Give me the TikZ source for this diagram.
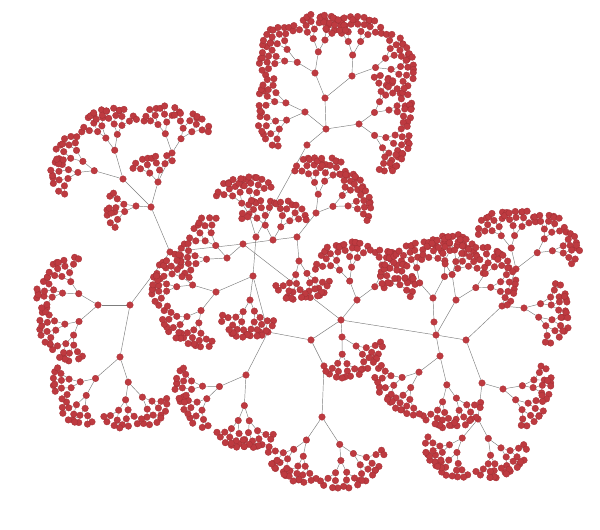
\documentclass[tikz,border=0pt]{standalone}
\definecolor{dotred}{RGB}{190,58,64}
\definecolor{wiregray}{RGB}{125,125,125}
\newif\ifwires
% binary fan below a hub: name, x, y, direction, length, levels
\newcommand\sprout[6]{%
  \ifnum#6>0
    \foreach \s/\sg in {a/-1,b/1}{%
      \pgfmathsetmacro\sp{{22,27,22,25,33}[#6-1]}%
      \pgfmathsetmacro\ang{#4+(\sg)*(\sp+6*rand)}%
      \pgfmathsetmacro\bl{#5*(1+0.15*rand)}%
      \pgfmathsetmacro\bx{#2+\bl*cos(\ang)}%
      \pgfmathsetmacro\by{#3+\bl*sin(\ang)}%
      \pgfmathsetmacro\bn{0.5*#5+2.9}%
      \pgfmathtruncatemacro\bd{#6-1}%
      \ifwires
        \node[spot] (#1-\s) at (\bx,\by) {};
        \draw[wire] (#1) -- (#1-\s);
      \else
        \node[dot] at (\bx,\by) {};
      \fi
      \edef\sproutnext{\noexpand\sprout{#1-\s}{\bx}{\by}{\ang}{\bn}{\bd}}\sproutnext
    }%
  \fi}
\newcommand\hubs{R/311/340, Ha/341/320, Hb/324/366, Hc/268/332,
    ca/243/244, hb/357/300, ka/342/337, hc/436/335,
    na/170/252, qa/273/240, ma/227/258,
    pa/130/305, pb/151/207, la/98/305, lb/120/357,
    ua/123/179, ud/158/182, ub/172/153, uc/136/206,
    qq/297/237, qb/316/213, qc/299/261,
    sa/253/276, sd/256/237, sf/216/292, sb/250/300, sc/249/214, se/246/375,
    va/322/417,
    ra/466/340, rb/502/306, rc/456/300, rd/440/356, re/434/322, rf/433/298,
    rg/482/383, rh/516/269, ri/524/308, rj/478/419, rk/503/389,
    ta/307/145, tb/326/129, tc/359/124, td/325/98, te/352/76, tf/315/73, tg/305/112}
\newcommand\fans{la/98/305/176/25/5, lb/120/357/104/31/5,
    ua/123/179/-135/28/5, ud/158/182/-110/12/3, ub/172/153/-80/19/4, uc/136/206/170/14/3,
    ma/227/258/200/18/4, qa/273/240/-90/16/4, qb/316/213/-50/21/5, qc/299/261/80/15/4,
    sf/216/292/160/23/5, sb/250/300/95/14/4, sc/249/214/-100/15/4, se/246/375/127/28/5,
    va/322/417/90/30/5, hb/357/300/-75/23/5, ka/342/337/60/15/4,
    rf/433/298/-100/23/5, rc/456/300/-70/24/5, rd/440/356/110/26/5,
    rh/516/269/-75/24/5, ri/524/308/5/19/4, rj/478/419/95/24/5, rk/503/389/15/19/4,
    tc/359/124/0/21/5, te/352/76/-50/23/5, tf/315/73/-115/23/5, tg/305/112/185/19/4}
\begin{document}
\begin{tikzpicture}[x=1pt,y=-1pt,
    dot/.style={circle,inner sep=0pt,minimum size=6.6pt,fill=dotred,draw=dotred!85!black,line width=0.3pt},
    spot/.style={circle,inner sep=0pt,minimum size=6.6pt},
    wire/.style={draw=wiregray,line width=0.45pt}]
\useasboundingbox (0,0) rectangle (600,530);
% first the wires
\wirestrue
\foreach \n/\x/\y in \hubs
  \node[spot] (\n) at (\x,\y) {};
\foreach \a/\b in {R/Ha, R/Hb, R/Hc, Ha/ca, Ha/hb, Ha/ka, Ha/hc,
    ca/na, ca/qa, ca/ma, na/pa, na/pb, pa/la, pa/lb,
    pb/ua, pb/ud, ud/ub, pb/uc, qa/qq, qq/qb, qq/qc,
    Hc/sa, Hc/se, sa/sd, sa/sf, sa/sb, sd/sc, sd/ta, Hb/va,
    hc/ra, hc/rc, hc/re, hc/rd, re/rf, ra/rb, ra/rg, rb/rh, rb/ri, rg/rj, rg/rk,
    ta/tb, tb/tc, tb/td, tb/tg, td/te, td/tf}
  \draw[wire] (\a) -- (\b);
\pgfmathsetseed{11}
\foreach \n/\hx/\hy/\hd/\hl/\hk in \fans
  \sprout{\n}{\hx}{\hy}{\hd}{\hl}{\hk};
% then the dots on top, same seed
\wiresfalse
\foreach \n/\x/\y in \hubs
  \node[dot] at (\x,\y) {};
\pgfmathsetseed{11}
\foreach \n/\hx/\hy/\hd/\hl/\hk in \fans
  \sprout{\n}{\hx}{\hy}{\hd}{\hl}{\hk};
\end{tikzpicture}
\end{document}
